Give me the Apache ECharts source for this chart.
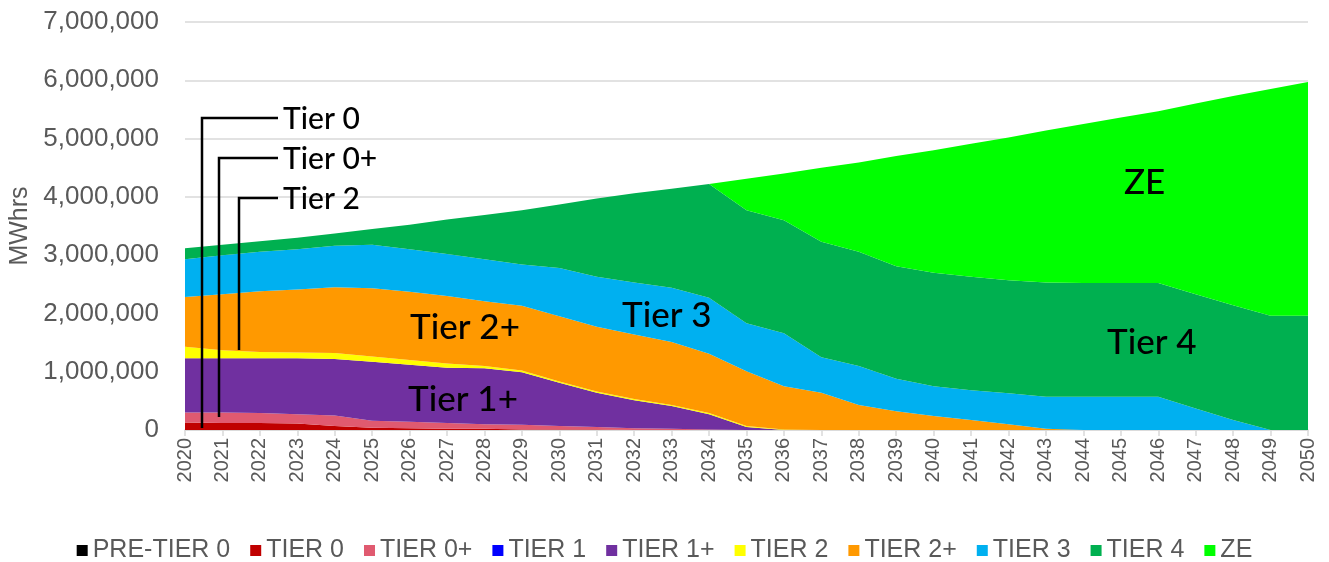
<!DOCTYPE html>
<html>
<head>
<meta charset="utf-8">
<title>MWhrs by tier</title>
<script src="https://cdn.jsdelivr.net/npm/echarts@6/dist/echarts.min.js"></script>
<style>
  html, body { margin: 0; padding: 0; background: #fff; }
  #main { width: 1329px; height: 562px; }
</style>
</head>
<body>
<div id="main"></div>
<script>
// years on the x axis
var years = [];
for (var y = 2020; y <= 2050; y++) years.push(String(y));

// MWhrs per tier (2020..2050)
var preTier0 = [0,0,0,0,0,0,0,0,0,0,0,0,0,0,0,0,0,0,0,0,0,0,0,0,0,0,0,0,0,0,0];
var tier0    = [130000,120000,120000,110000,70000,40000,30000,20000,20000,10000,10000,10000,0,0,0,0,0,0,0,0,0,0,0,0,0,0,0,0,0,0,0];
var tier0p   = [170000,180000,170000,160000,180000,120000,110000,100000,80000,80000,60000,40000,30000,20000,10000,0,0,0,0,0,0,0,0,0,0,0,0,0,0,0,0];
var tier1    = [0,0,0,0,0,0,0,0,0,0,0,0,0,0,0,0,0,0,0,0,0,0,0,0,0,0,0,0,0,0,0];
var tier1p   = [930000,930000,940000,960000,970000,1010000,980000,950000,960000,900000,740000,590000,480000,390000,260000,50000,0,0,0,0,0,0,0,0,0,0,0,0,0,0,0];
var tier2    = [200000,140000,110000,100000,100000,90000,80000,70000,40000,30000,20000,20000,20000,20000,20000,20000,10000,0,0,0,0,0,0,0,0,0,0,0,0,0,0];
var tier2p   = [850000,960000,1040000,1080000,1130000,1170000,1170000,1160000,1110000,1110000,1120000,1110000,1110000,1080000,1020000,940000,740000,640000,430000,320000,240000,170000,100000,20000,0,0,0,0,0,0,0];
var tier3    = [650000,670000,680000,690000,710000,750000,730000,720000,720000,710000,830000,860000,890000,930000,960000,820000,910000,610000,670000,560000,510000,510000,530000,550000,570000,570000,570000,370000,170000,0,0];
var tier4    = [190000,180000,180000,200000,210000,270000,420000,590000,760000,930000,1090000,1340000,1530000,1700000,1950000,1940000,1940000,1980000,1960000,1930000,1950000,1950000,1940000,1960000,1950000,1950000,1950000,1960000,1970000,1960000,1960000];
var ze       = [0,0,0,0,0,0,0,0,0,0,0,0,0,0,0,540000,800000,1270000,1530000,1890000,2100000,2280000,2450000,2610000,2730000,2840000,2950000,3270000,3590000,3890000,4010000];

var seriesNames  = ['PRE-TIER 0','TIER 0','TIER 0+','TIER 1','TIER 1+','TIER 2','TIER 2+','TIER 3','TIER 4','ZE'];
var seriesData   = [preTier0, tier0, tier0p, tier1, tier1p, tier2, tier2p, tier3, tier4, ze];
var seriesColors = ['#000000','#C00000','#E05A70','#0000FF','#7030A0','#FFFF00','#FF9900','#00B0F0','#00B050','#00FF00'];

var gray = '#595959';
var axisFont = '"Liberation Sans", Arial, sans-serif';
var noteFont = 'Lato, "Noto Sans", sans-serif';

var series = seriesNames.map(function (name, i) {
    return {
        name: name,
        type: 'line',
        stack: 'total',
        symbol: 'none',
        lineStyle: { width: 0 },
        areaStyle: { color: seriesColors[i], opacity: 1 },
        itemStyle: { color: seriesColors[i] },
        data: seriesData[i]
    };
});

// callout lines for the thin tiers
function callout(x, yTop, yBottom, xEnd) {
    return {
        type: 'polyline',
        shape: { points: [[x, yBottom], [x, yTop], [xEnd, yTop]] },
        style: { stroke: '#000', lineWidth: 2.5, fill: null },
        z: 100
    };
}
function label(text, x, y, size) {
    return {
        type: 'text',
        x: x, y: y,
        style: { text: text, fill: '#000', font: '500 ' + size + 'px ' + noteFont, textVerticalAlign: 'middle' },
        z: 100
    };
}

var chart = echarts.init(document.getElementById('main'));
chart.setOption({
    backgroundColor: '#fff',
    animation: false,
    grid: { left: 185, right: 21, top: 22, bottom: 132, outerBoundsMode: 'none' },
    legend: {
        top: 533,
        left: 'center',
        itemWidth: 11,
        itemHeight: 11,
        itemGap: 20,
        icon: 'rect',
        textStyle: { color: gray, fontSize: 25, fontFamily: axisFont },
        data: seriesNames
    },
    xAxis: {
        type: 'category',
        boundaryGap: false,
        data: years,
        axisLine: { lineStyle: { color: '#d9d9d9', width: 1.5 } },
        axisTick: { show: true, lineStyle: { color: '#d9d9d9', width: 1.5 }, length: 6 },
        axisLabel: { rotate: 90, color: gray, fontSize: 20, fontFamily: axisFont, margin: 8 }
    },
    yAxis: {
        type: 'value',
        min: 0,
        max: 7000000,
        interval: 1000000,
        name: 'MWhrs',
        nameLocation: 'middle',
        nameGap: 152,
        nameTextStyle: { color: gray, fontSize: 25, fontFamily: axisFont },
        axisLine: { show: false },
        axisTick: { show: false },
        splitLine: { lineStyle: { color: '#d9d9d9', width: 1.5 } },
        axisLabel: {
            color: gray, fontSize: 26, fontFamily: axisFont, margin: 26,
            formatter: function (v) { return v.toLocaleString('en-US'); }
        }
    },
    series: series,
    graphic: [
        callout(202, 118, 428, 278),
        callout(219, 158, 417, 278),
        callout(239, 198, 350, 278),
        label('Tier 0', 283, 119, 30),
        label('Tier 0+', 283, 159, 30),
        label('Tier 2', 283, 199, 30),
        label('Tier 2+', 410, 328, 35),
        label('Tier 1+', 408, 400, 35),
        label('Tier 3', 622, 316, 35),
        label('Tier 4', 1107, 343, 35),
        label('ZE', 1124, 183, 35)
    ]
});
</script>
</body>
</html>
